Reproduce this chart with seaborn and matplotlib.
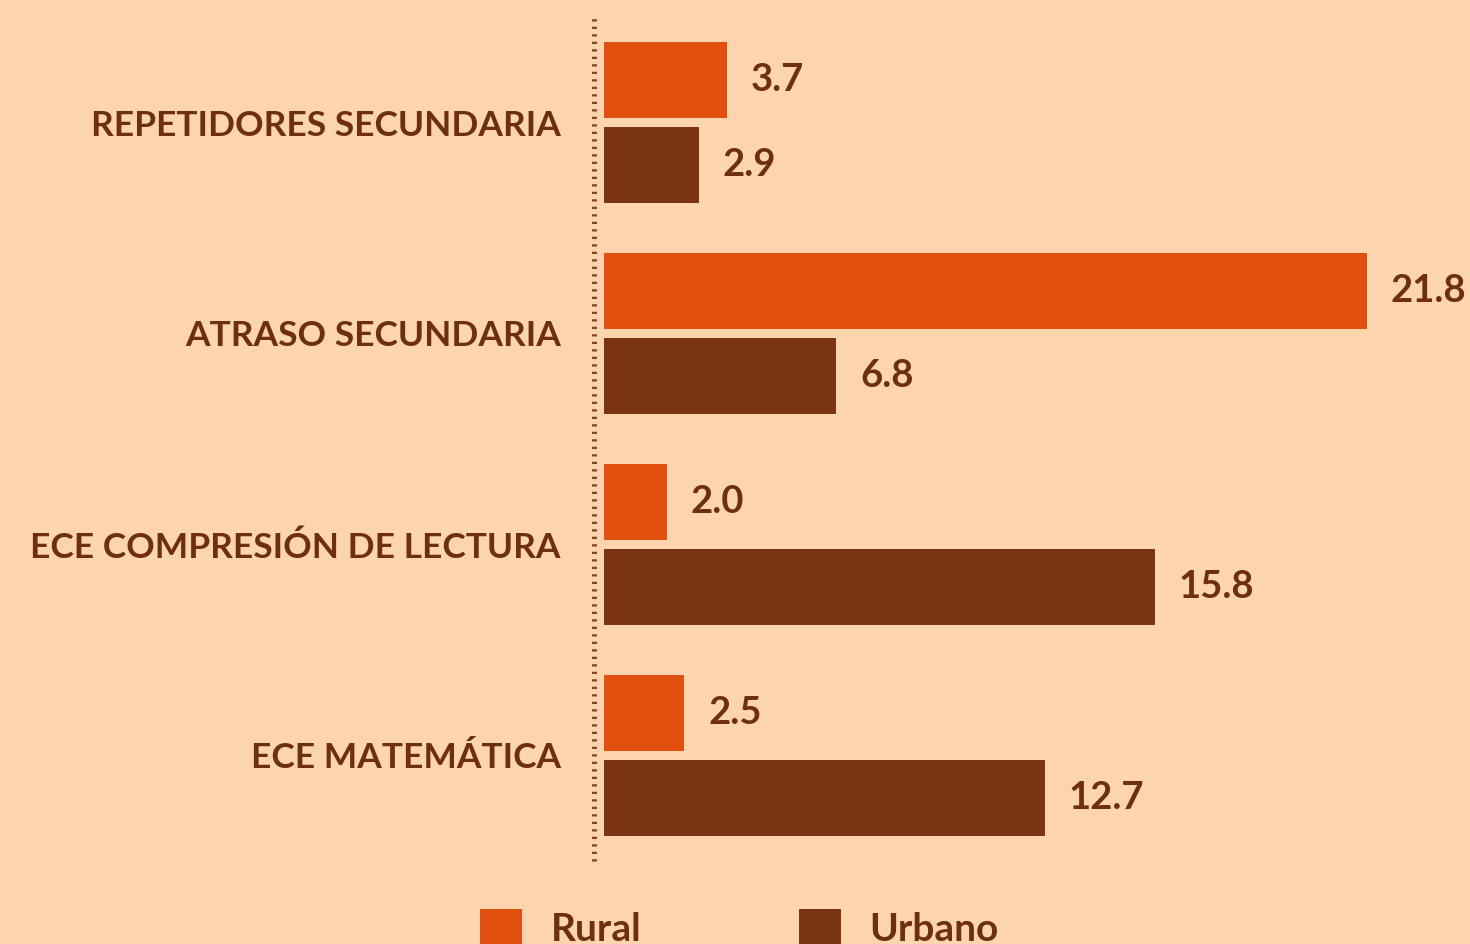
import matplotlib
matplotlib.use("Agg")
import matplotlib.pyplot as plt
import seaborn as sns
import pandas as pd
from matplotlib.patches import Patch

categories = ["REPETIDORES SECUNDARIA", "ATRASO SECUNDARIA",
              "ECE COMPRESIÓN DE LECTURA", "ECE MATEMÁTICA"]
rural = [3.7, 21.8, 2.0, 2.5]
urbano = [2.9, 6.8, 15.8, 12.7]
series_names = ["Rural", "Urbano"]

BG = "#FCD5AE"
C_RURAL = "#E1500F"
C_URB = "#7A3412"
TXT = "#6E2F10"

df = pd.DataFrame({
    "cat": categories * 2,
    "val": rural + urbano,
    "area": [series_names[0]] * 4 + [series_names[1]] * 4,
})

sns.set_theme(style="white")
plt.rcParams["font.family"] = ["Lato", "DejaVu Sans"]
plt.rcParams["font.weight"] = "bold"

fig = plt.figure(figsize=(14.7, 9.44), dpi=100, facecolor=BG)
ax = fig.add_axes([594 / 1470, 1 - 861 / 944, (1470 - 594) / 1470, 844 / 944])
ax.set_facecolor(BG)

sns.barplot(data=df, y="cat", x="val", hue="area", orient="h",
            palette=[C_RURAL, C_URB], width=0.8, gap=0.1,
            saturation=1, legend=False, ax=ax, order=categories,
            hue_order=series_names, linewidth=0, edgecolor="none")

scale = 35.36
ax.set_xlim(-2 / scale, (1470 - 596) / scale)
ax.set_ylim(3.5, -0.5)

# gap between axis line and bar start
ax.axvspan(0, 8 / scale, color=BG, zorder=3, lw=0)

for cont in ax.containers:
    ax.bar_label(cont, fmt="%.1f", padding=17, fontsize=27.5,
                 fontweight="bold", color=TXT)

for s in ["top", "right", "bottom", "left"]:
    ax.spines[s].set_visible(False)
ax.axvline(-2 / scale + 0.001, ymin=0, ymax=1, color="#854522", lw=3.6,
           dashes=(0.45, 1.05), dash_capstyle="butt", zorder=4, clip_on=False)

ax.set_xticks([])
ax.set_xlabel("")
ax.set_ylabel("")
ax.tick_params(axis="y", length=0, pad=24, labelsize=25.5, labelcolor=TXT)
for t in ax.get_yticklabels():
    t.set_fontweight("bold")
    t.set_verticalalignment("center_baseline")

handles = [Patch(facecolor=C_RURAL, edgecolor="none"),
           Patch(facecolor=C_URB, edgecolor="none")]
fig.legend(handles, series_names, loc="center left",
           bbox_to_anchor=(480 / 1470, 1 - 928 / 944), ncol=2, frameon=False,
           handlelength=1.07, handleheight=1.07,
           handletextpad=0.75, columnspacing=4.05, borderpad=0,
           borderaxespad=0, labelcolor=TXT, prop={"weight": "bold", "size": 28})

fig.savefig("out.png", dpi=100, facecolor=BG)
